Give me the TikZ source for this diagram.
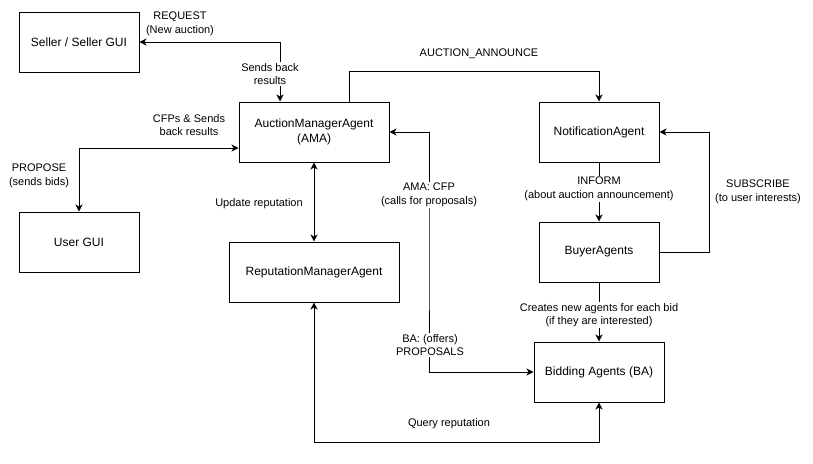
\documentclass[tikz,border=0pt]{standalone}
\usepackage{fontspec}
\setmainfont{Liberation Sans}
\usetikzlibrary{arrows.meta}

\begin{document}
\begin{tikzpicture}[x=1pt, y=-1pt, line width=1pt,
    agent/.style={draw, minimum height=60pt, align=center, inner sep=2pt,
        font=\fontsize{12}{15.5}\selectfont},
    msg/.style={align=center, inner sep=1pt, font=\fontsize{11}{13.5}\selectfont},
    oneway/.style={-{Stealth[length=7pt, width=7pt, inset=2pt]}},
    twoway/.style={{Stealth[length=7pt, width=7pt, inset=2pt]}-{Stealth[length=7pt, width=7pt, inset=2pt]}}]

    % Canvas
    \useasboundingbox (0,0) rectangle (813,463);

    % Agents and GUIs
    \node[agent, minimum width=120pt] (seller) at (79,42) {Seller / Seller GUI};
    \node[agent, minimum width=120pt] (user) at (79,242) {User GUI};
    \node[agent, minimum width=150pt] (ama) at (314,132) {AuctionManagerAgent\\(AMA)};
    \node[agent, minimum width=170pt] (rma) at (314,272) {ReputationManagerAgent};
    \node[agent, minimum width=120pt] (notif) at (599,132) {NotificationAgent};
    \node[agent, minimum width=120pt] (buyer) at (599,252) {BuyerAgents};
    \node[agent, minimum width=130pt] (bid) at (599,372) {Bidding Agents (BA)};

    % Seller <-> AMA
    \draw[twoway] (seller.east) -| ([xshift=-34pt]ama.north);
    \node[msg] (request) at (180,24) {REQUEST\\(New auction)};
    \node[msg, fill=white] (sendsback) at (270,74) {Sends back\\results};

    % AMA <-> User GUI
    \draw[twoway] ([yshift=-16pt]ama.west) -| (user.north);
    \node[msg] (cfps) at (189,125) {CFPs \& Sends\\back results};
    \node[msg] (propose) at (39,176) {PROPOSE\\(sends bids)};

    % AMA <-> ReputationManagerAgent
    \draw[twoway] (ama.south) -- (rma.north);
    \node[msg] (update) at (259,204) {Update reputation};

    % AMA -> NotificationAgent
    \draw[oneway] ([xshift=35pt]ama.north) |- ([yshift=30pt]notif.north) -- (notif.north);
    \node[msg] (announce) at (479,54) {AUCTION\_ANNOUNCE};

    % AMA <-> Bidding Agents
    \coordinate (cfpline) at (429,250);
    \draw[twoway] (ama.east) -| (cfpline) |- (bid.west);
    \node[msg, fill=white] (cfp) at (429,195) {AMA: CFP\\(calls for proposals)};
    \node[msg, fill=white] (offers) at (430,345) {BA: (offers)\\PROPOSALS};

    % NotificationAgent -> BuyerAgents
    \draw[oneway] (notif.south) -- (buyer.north);
    \node[msg, fill=white] (inform) at (599,189) {INFORM\\(about auction announcement)};

    % BuyerAgents -> NotificationAgent
    \draw[oneway] (buyer.east) -- ++(50,0) |- (notif.east);
    \node[msg] (subscribe) at (758,192) {SUBSCRIBE\\(to user interests)};

    % BuyerAgents -> Bidding Agents
    \draw[oneway] (buyer.south) -- (bid.north);
    \node[msg, fill=white] (creates) at (599,315) {Creates new agents for each bid\\(if they are interested)};

    % ReputationManagerAgent <-> Bidding Agents
    \draw[twoway] (rma.south) -- ++(0,140) -| (bid.south);
    \node[msg] (query) at (449,424) {Query reputation};
\end{tikzpicture}
\end{document}
